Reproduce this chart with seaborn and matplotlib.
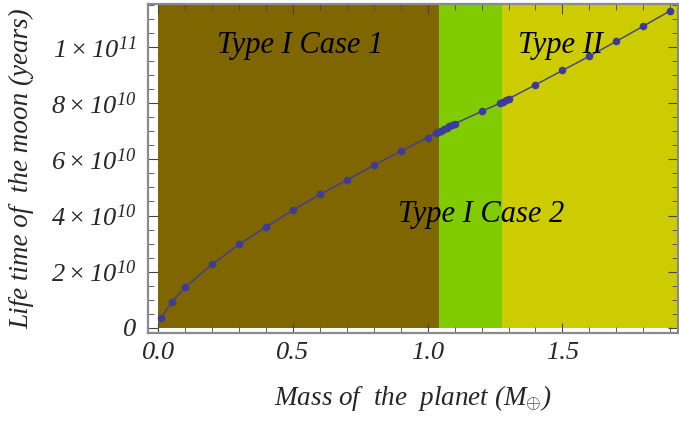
import matplotlib
matplotlib.use("Agg")
import matplotlib.pyplot as plt
import seaborn as sns
import pandas as pd
from matplotlib.ticker import MultipleLocator, FuncFormatter

# ---- data ----
mass = [0.01, 0.05, 0.10, 0.20, 0.30, 0.40, 0.50, 0.60, 0.70, 0.80, 0.90, 1.00,
        1.03, 1.04, 1.05, 1.06, 1.07, 1.08, 1.09, 1.10,
        1.20, 1.27, 1.28, 1.29, 1.30,
        1.40, 1.50, 1.60, 1.70, 1.80, 1.90]
lifetime_e10 = [0.34, 0.92, 1.44, 2.26, 2.97, 3.59, 4.19, 4.75, 5.26, 5.79, 6.29, 6.78,
                6.93, 6.98, 7.03, 7.08, 7.13, 7.18, 7.23, 7.27,
                7.71, 8.01, 8.06, 8.11, 8.16,
                8.66, 9.17, 9.68, 10.21, 10.75, 11.30]
region_edges = [0.0, 1.043, 1.276, 1.93]
region_colors = ["#806600", "#80cc00", "#cccc00"]
region_labels = ["Type I Case 1", "Type I Case 2", "Type II"]
label_x = [0.525, 1.20, 1.494]
label_y_e10 = [10.06, 4.05, 10.06]
xticks = [0.0, 0.5, 1.0, 1.5]
yticks_e10 = [0, 2, 4, 6, 8, 10]

df = pd.DataFrame({"mass": mass, "life": [v * 1e10 for v in lifetime_e10]})

sns.set_style("ticks")
plt.rcParams["font.family"] = ["Liberation Serif", "DejaVu Serif"]
plt.rcParams["font.style"] = "italic"
plt.rcParams["mathtext.fontset"] = "custom"
plt.rcParams["mathtext.rm"] = "Liberation Serif:italic"
plt.rcParams["mathtext.it"] = "Liberation Serif:italic"
plt.rcParams["mathtext.sf"] = "Liberation Serif:italic"

fig = plt.figure(figsize=(6.79, 4.25), dpi=100)
ax = fig.add_axes([0.2175, 0.2157, 0.7815, 0.7749])

xmin, xmax = -0.039, region_edges[-1]
ymin, ymax = -0.2e10, 11.54e10
ax.set_xlim(xmin, xmax)
ax.set_ylim(ymin, ymax)

for i in range(len(region_colors)):
    ax.fill_between([region_edges[i], region_edges[i + 1]], 0, ymax,
                    color=region_colors[i], lw=0, zorder=0)

sns.lineplot(data=df, x="mass", y="life", ax=ax, color="#3d3d99", lw=1.0,
             marker="o", markersize=5.5, markeredgewidth=0, zorder=3)

for t, lx, ly in zip(region_labels, label_x, label_y_e10):
    ax.text(lx, ly * 1e10, t, fontsize=22, style="italic", ha="center",
            va="center", color="black", zorder=4)

ax.set_xticks(xticks)
ax.xaxis.set_major_formatter(FuncFormatter(lambda v, p: f"{v:.1f}"))
ax.xaxis.set_minor_locator(MultipleLocator(0.1))
ax.set_yticks([v * 1e10 for v in yticks_e10])
ax.yaxis.set_minor_locator(MultipleLocator(0.5e10))


def yfmt(v, p):
    if abs(v) < 1:
        return "0"
    e = 10
    m = v / 1e10
    if m >= 10:
        e = 11
        m = m / 10
    return r"$%d\times 10^{%d}$" % (round(m), e)


ax.yaxis.set_major_formatter(FuncFormatter(yfmt))

gray = "#8a8a8a"
for s in ax.spines.values():
    s.set_color(gray)
    s.set_linewidth(1.6)
ax.tick_params(which="both", direction="in", top=True, right=True,
               color="#444444", labelsize=19)
ax.tick_params(which="major", length=7, width=0.8)
ax.tick_params(which="minor", length=4, width=0.6)
ax.tick_params(axis="x", pad=6)
ax.tick_params(axis="y", pad=8)
for lab in ax.get_xticklabels() + ax.get_yticklabels():
    lab.set_style("italic")

ax.set_xlabel(r"Mass of  the  planet ($M_{\oplus}$)", fontsize=19.5, style="italic",
              labelpad=14)
ax.set_ylabel("Life time of  the moon (years)", fontsize=19.5, style="italic",
              labelpad=12)

fig.savefig("out.png", dpi=100)
